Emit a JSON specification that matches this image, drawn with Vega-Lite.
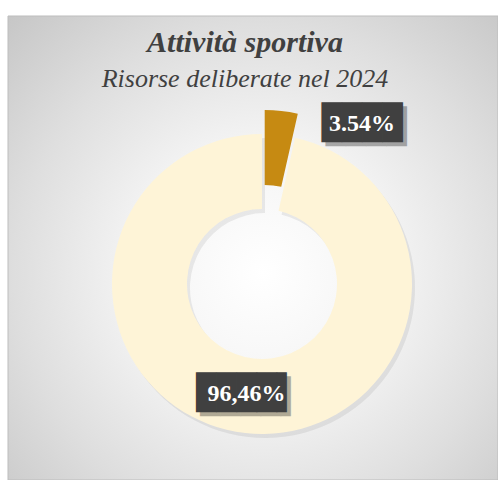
{
  "$schema": "https://vega.github.io/schema/vega-lite/v6.json",
  "width": 490,
  "height": 464,
  "autosize": {"type": "none"},
  "padding": {"left": 8, "top": 16, "right": 0, "bottom": 0},
  "background": "white",
  "config": {"view": {"stroke": null}},
  "title": {
    "text": "Attività sportiva",
    "subtitle": "Risorse deliberate nel 2024",
    "anchor": "middle",
    "frame": "group",
    "offset": -76,
    "dx": -8,
    "font": "Liberation Serif",
    "fontSize": 30,
    "fontStyle": "italic",
    "fontWeight": "bold",
    "color": "#404040",
    "subtitleFont": "Liberation Serif",
    "subtitleFontSize": 26,
    "subtitleFontStyle": "italic",
    "subtitleColor": "#404040",
    "subtitlePadding": 8
  },
  "data": {
    "values": [
      {"cat": "a", "label": "3.54%", "value": 3.54, "order": 1},
      {"cat": "b", "label": "96,46%", "value": 96.46, "order": 2}
    ]
  },
  "layer": [
    {
      "data": {"values": [{"panel": "bg"}]},
      "mark": {
        "type": "rect",
        "stroke": "#bdbdbd",
        "strokeWidth": 1,
        "color": {
          "gradient": "radial",
          "x1": 0.52, "y1": 0.55, "x2": 0.52, "y2": 0.55,
          "r1": 0, "r2": 0.78,
          "stops": [
            {"offset": 0, "color": "#ffffff"},
            {"offset": 0.35, "color": "#f3f3f3"},
            {"offset": 0.65, "color": "#dedede"},
            {"offset": 1, "color": "#c2c2c2"}
          ]
        }
      },
      "encoding": {
        "x": {"value": 0},
        "x2": {"value": "width"},
        "y": {"value": 0},
        "y2": {"value": "height"}
      }
    },
    {
      "mark": {"type": "arc", "radius": 150, "radius2": 75, "xOffset": 12, "yOffset": 40, "color": "#000000"},
      "encoding": {
        "theta": {"field": "value", "type": "quantitative", "stack": true},
        "order": {"field": "order", "type": "quantitative"},
        "opacity": {"condition": {"test": "datum.cat === 'a'", "value": 0}, "value": 0.07}
      }
    },
    {
      "mark": {"type": "arc", "radius": 150, "radius2": 75, "xOffset": 9, "yOffset": 36},
      "encoding": {
        "theta": {"field": "value", "type": "quantitative", "stack": true},
        "order": {"field": "order", "type": "quantitative"},
        "color": {"field": "cat", "type": "nominal", "scale": {"domain": ["a", "b"], "range": ["#C68A12", "#FEF4D7"]}, "legend": null},
        "opacity": {"condition": {"test": "datum.cat === 'a'", "value": 0}, "value": 1}
      }
    },
    {
      "mark": {"type": "arc", "radius": 150, "radius2": 75, "xOffset": 11.7, "yOffset": 12},
      "encoding": {
        "theta": {"field": "value", "type": "quantitative", "stack": true},
        "order": {"field": "order", "type": "quantitative"},
        "color": {"field": "cat", "type": "nominal", "scale": {"domain": ["a", "b"], "range": ["#C68A12", "#FEF4D7"]}, "legend": null},
        "opacity": {"condition": {"test": "datum.cat === 'a'", "value": 1}, "value": 0}
      }
    },
    {
      "mark": {"type": "text", "dx": 113, "dy": -120, "font": "DejaVu Sans Mono", "fontSize": 33.6, "color": "#000000", "opacity": 0.3, "align": "center", "baseline": "middle"},
      "encoding": {"text": {"condition": {"test": "datum.cat === 'a'", "value": "████"}, "value": ""}}
    },
    {
      "mark": {"type": "text", "dx": 109, "dy": -124, "font": "DejaVu Sans Mono", "fontSize": 33.6, "color": "#404040", "align": "center", "baseline": "middle"},
      "encoding": {"text": {"condition": {"test": "datum.cat === 'a'", "value": "████"}, "value": ""}}
    },
    {
      "mark": {"type": "text", "dx": 109, "dy": -124, "font": "Liberation Serif", "fontSize": 24, "fontWeight": "bold", "color": "#ffffff", "align": "center", "baseline": "middle"},
      "encoding": {"text": {"condition": {"test": "datum.cat === 'a'", "field": "label"}, "value": ""}}
    },
    {
      "mark": {"type": "text", "dx": -2.5, "dy": 150, "font": "DejaVu Sans Mono", "fontSize": 33.6, "color": "#000000", "opacity": 0.3, "align": "center", "baseline": "middle"},
      "encoding": {"text": {"condition": {"test": "datum.cat === 'b'", "value": "████▌"}, "value": ""}}
    },
    {
      "mark": {"type": "text", "dx": -6.5, "dy": 146, "font": "DejaVu Sans Mono", "fontSize": 33.6, "color": "#404040", "align": "center", "baseline": "middle"},
      "encoding": {"text": {"condition": {"test": "datum.cat === 'b'", "value": "████▌"}, "value": ""}}
    },
    {
      "mark": {"type": "text", "dx": -6.5, "dy": 146, "font": "Liberation Serif", "fontSize": 24, "fontWeight": "bold", "color": "#ffffff", "align": "center", "baseline": "middle"},
      "encoding": {"text": {"condition": {"test": "datum.cat === 'b'", "field": "label"}, "value": ""}}
    }
  ]
}
